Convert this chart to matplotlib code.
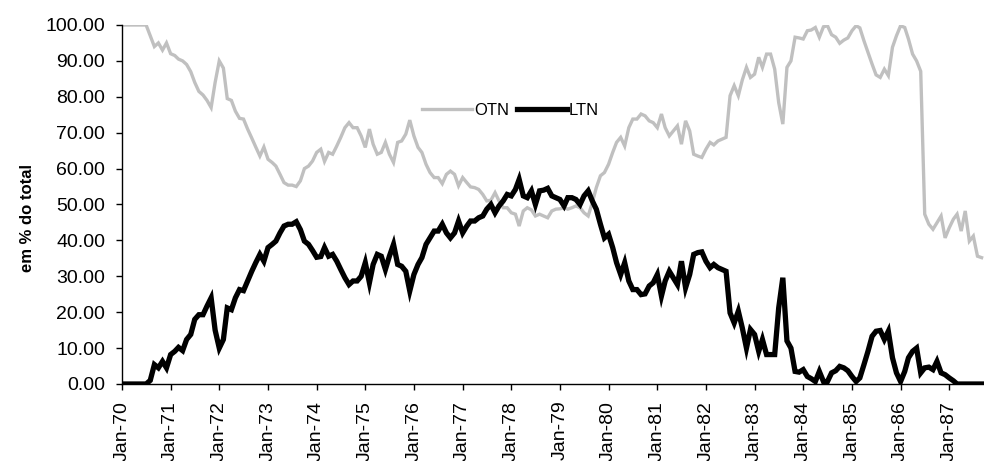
import numpy as np
import pandas as pd
import matplotlib
matplotlib.use("Agg")
from matplotlib import pyplot as plt
import matplotlib.dates as mdates
from matplotlib.ticker import FormatStrFormatter

# monthly shares (% of total), Jan-1970 onwards, one row per year
otn = [
    100, 100, 100, 100, 100, 100, 100, 97, 94, 95, 93, 95,
    92, 91.5, 90.5, 90, 89, 87, 84, 81.5, 80.5, 79, 77, 84,
    90, 88, 79.5, 79, 76, 74, 73.8, 71, 68.5, 66, 63.5, 66,
    62.6, 61.7, 60.7, 58.4, 56.1, 55.4, 55.4, 55, 56.6, 60, 60.7, 62.1,
    64.5, 65.4, 62, 64.5, 64, 66.3, 68.7, 71.4, 72.8, 71.4, 71.4, 69.1,
    65.9, 71, 66.8, 64, 64.5, 67.3, 64, 61.7, 67.3, 67.7, 69.6, 73.5,
    69.1, 65.9, 64.5, 61.2, 58.9, 57.5, 57.5, 55.8, 58.4, 59.3, 58.4, 55.2,
    57.5, 56.1, 54.9, 54.7, 54.2, 52.8, 51, 51.2, 53.3, 51, 49.1, 49.1,
    47.7, 47.3, 44, 48.2, 49.1, 48.5, 46.8, 47.3, 46.8, 46.3, 48.2, 48.7,
    48.8, 49.1, 48.7, 49.1, 49.6, 49.1, 47.7, 46.8, 50.5, 54.7, 58, 58.9,
    61.2, 64.5, 67.3, 68.7, 66.3, 71.4, 73.8, 73.8, 75.2, 74.7, 73.3, 72.8,
    71.4, 75.2, 71.4, 69.1, 70.5, 71.9, 66.8, 73.3, 70.5, 64, 63.5, 63.1,
    65.4, 67.3, 66.6, 67.7, 68.2, 68.7, 80.3, 83.1, 80.3, 84.7, 88.2, 85.4,
    86.3, 91, 88.2, 91.9, 91.9, 87.7, 78.4, 72.4, 88.2, 90, 96.6, 96.4,
    96.1, 98.4, 98.6, 99.3, 96.6, 99.5, 99.8, 97.3, 96.6, 94.9, 95.8, 96.4,
    98.4, 99.8, 99.2, 95.6, 92.4, 89.1, 86.1, 85.4, 87.7, 85.9, 93.8, 97,
    99.8, 99.3, 96.1, 91.9, 90, 87.1, 47.3, 44.5, 43.1, 44.9, 46.8, 40.7,
    43.5, 45.9, 47.3, 42.6, 48.2, 39.8, 41.2, 35.6, 35.2,
]

ltn = [
    0, 0, 0, 0, 0, 0, 0, 1, 5.4, 4.5, 6.3, 4.5,
    8.2, 9.1, 10.2, 9.3, 12.4, 13.8, 18, 19.3, 19.3, 21.7, 24, 15,
    10, 12.4, 21.2, 20.7, 24, 26.3, 26, 28.7, 31.4, 33.8, 36.1, 34.2,
    38, 38.9, 39.8, 42.1, 44, 44.5, 44.5, 45.2, 43, 39.8, 38.9, 37.2,
    35.3, 35.5, 38, 35.6, 36.1, 34.2, 31.9, 29.6, 27.7, 28.7, 28.7, 30,
    33.8, 28.2, 33.3, 36.1, 35.6, 31.9, 35.6, 38.9, 33.3, 32.8, 31.4, 25.9,
    30.5, 33.3, 35.2, 38.9, 40.7, 42.6, 42.6, 44.5, 42.1, 40.7, 42.1, 45.4,
    42.1, 44, 45.4, 45.4, 46.3, 46.8, 48.7, 50, 47.7, 49.6, 51, 52.8,
    52.4, 54.2, 57, 52.4, 51.9, 53.8, 50, 53.8, 54, 54.5, 52.4, 51.9,
    51.4, 49.6, 51.9, 51.9, 51.4, 50, 52.4, 53.8, 51, 48.7, 44.5, 40.7,
    41.7, 38, 33.8, 30.5, 33.8, 28.7, 26.3, 26.3, 24.9, 25.1, 27.3, 28.2,
    30.5, 24.5, 28.7, 31.4, 29.6, 27.7, 34.2, 26.8, 30.5, 36.1, 36.6, 36.8,
    34.2, 32.4, 33.3, 32.4, 31.9, 31.4, 19.8, 17, 20.3, 15.6, 10, 15.2,
    13.8, 9.1, 12.4, 8.2, 8.2, 8.2, 21.2, 29.6, 12, 10, 3.5, 3.3,
    4, 2.1, 1.5, 0.7, 3.5, 0.7, 0.7, 3.1, 3.7, 4.9, 4.5, 3.7,
    2.1, 0.7, 1.7, 5.4, 9.1, 13.3, 14.7, 14.9, 12.4, 14.7, 7.3, 3.1,
    0.7, 3.5, 7.3, 9.1, 10, 3.1, 4.5, 4.7, 4, 6.3, 3.1, 2.6,
    1.7, 0.9, 0, 0, 0, 0, 0, 0, 0,
]

months = pd.date_range("1970-01-01", periods=len(otn), freq="MS")

plt.rcParams["font.family"] = ["Liberation Sans", "DejaVu Sans"]

fig = plt.figure(figsize=(9.84, 4.61), dpi=100)
ax = fig.add_axes([122 / 984, 1 - 384 / 461, 1 - 122 / 984, 359 / 461])

ax.plot(months, otn, color="#c0c0c0", lw=2.4, label="OTN", solid_joinstyle="miter")
ax.plot(months, ltn, color="black", lw=3.8, label="LTN", solid_joinstyle="miter")

ax.set_ylim(0, 100)
ax.set_yticks(np.arange(0, 101, 10))
ax.yaxis.set_major_formatter(FormatStrFormatter("%.2f"))
ax.set_xlim(months[0], months[-1] + pd.Timedelta(days=18))
ax.xaxis.set_major_locator(mdates.YearLocator())
ax.xaxis.set_major_formatter(mdates.DateFormatter("%b-%y"))

ax.tick_params(axis="both", direction="out", length=4, width=1, labelsize=14, pad=8)
ax.tick_params(axis="x", labelrotation=90, pad=8)
for s in ["top", "right"]:
    ax.spines[s].set_visible(False)
for s in ["left", "bottom"]:
    ax.spines[s].set_linewidth(1)

fig.text(28 / 984, 1 - 218 / 461, "em % do total", rotation=90, ha="center",
         va="center", fontsize=12, fontweight="bold")

ax.legend(loc="center", bbox_to_anchor=(0.451, 0.763), ncol=2, frameon=False,
          fontsize=12, handlelength=3.0, handletextpad=0.1, columnspacing=0.5)

fig.savefig("out.png", dpi=100)
